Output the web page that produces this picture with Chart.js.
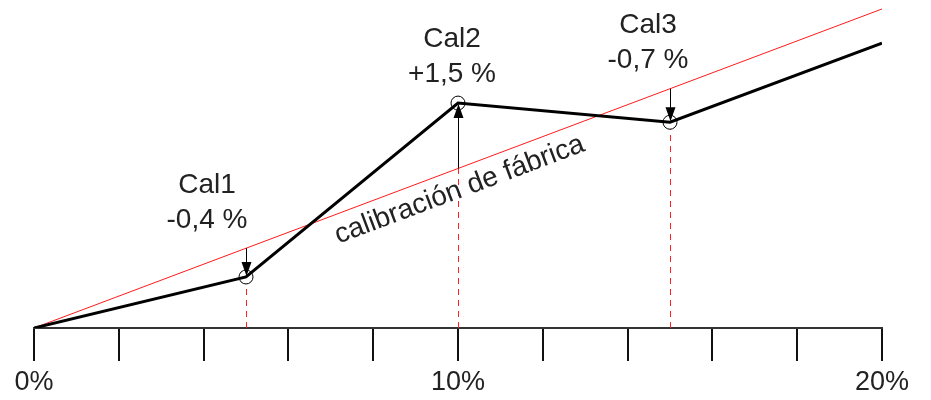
<!DOCTYPE html>
<html><head><meta charset="utf-8">
<script src="https://cdn.jsdelivr.net/npm/chart.js@4/dist/chart.umd.min.js"></script>
<style>html,body{margin:0;padding:0;background:#fff}#wrap{width:931px;height:400px;position:relative}</style>
</head><body><div id="wrap"><canvas id="c"></canvas></div>
<script>
// ---- data ----
const tickLabels = { 0: '0%', 10: '10%', 20: '20%' };
const factoryX = [0, 20];
const factoryY = [0, 20];
const measuredX = [0, 5, 10, 15, 20];
const measuredY = [0, 3.2, 14.1, 12.9, 17.85];
const calNames = ['Cal1', 'Cal2', 'Cal3'];
const calDeviation = ['-0,4 %', '+1,5 %', '-0,7 %'];
const calIndex = [1, 2, 3];
const factoryLabel = 'calibración de fábrica';

const FONT = "'Liberation Sans', Arial, sans-serif";
const TXT = '#222';

const annot = {
  id: 'annot',
  beforeDatasetsDraw(chart) {
    const { ctx, scales: { x, y } } = chart;
    ctx.save();
    ctx.strokeStyle = '#ff2020';
    ctx.lineWidth = 1;
    ctx.setLineDash([6, 5]);
    calIndex.forEach(i => {
      const px = Math.round(x.getPixelForValue(measuredX[i])) + 0.5;
      const top = Math.min(measuredY[i], measuredX[i]);
      ctx.beginPath();
      ctx.moveTo(px, y.getPixelForValue(0));
      ctx.lineTo(px, y.getPixelForValue(top) + (measuredY[i] < measuredX[i] ? 7 : 0));
      ctx.stroke();
    });
    ctx.restore();
  },
  afterDatasetsDraw(chart) {
    const { ctx, scales: { x, y } } = chart;
    ctx.save();
    // arrows
    ctx.strokeStyle = '#000';
    ctx.fillStyle = '#000';
    ctx.lineWidth = 1;
    calIndex.forEach(i => {
      const px = Math.round(x.getPixelForValue(measuredX[i])) + 0.5;
      const y0 = y.getPixelForValue(measuredX[i]);
      const y1 = y.getPixelForValue(measuredY[i]);
      const dir = y1 > y0 ? 1 : -1;
      const tip = y1 - dir * 1;
      ctx.beginPath();
      ctx.moveTo(px, y0);
      ctx.lineTo(px, tip - dir * 10);
      ctx.stroke();
      ctx.beginPath();
      ctx.moveTo(px, tip);
      ctx.lineTo(px - 5, tip - dir * 14);
      ctx.lineTo(px + 5, tip - dir * 14);
      ctx.closePath();
      ctx.fill();
    });
    // labels
    ctx.fillStyle = TXT;
    ctx.font = '28px ' + FONT;
    ctx.textAlign = 'center';
    ctx.textBaseline = 'alphabetic';
    const offs = [[-39, -84], [-6, -56], [-22, -89]];
    calIndex.forEach((i, k) => {
      const px = x.getPixelForValue(measuredX[i]) + offs[k][0];
      const py = y.getPixelForValue(measuredY[i]) + offs[k][1];
      ctx.fillText(calNames[k], px, py);
      ctx.fillText(calDeviation[k], px, py + 35);
    });
    // rotated factory label
    const ang = Math.atan2(y.getPixelForValue(factoryY[1]) - y.getPixelForValue(factoryY[0]),
                           x.getPixelForValue(factoryX[1]) - x.getPixelForValue(factoryX[0]));
    ctx.translate(x.getPixelForValue(10.1), y.getPixelForValue(8.2));
    ctx.rotate(ang);
    ctx.fillText(factoryLabel, 0, 0);
    ctx.restore();
  }
};

new Chart(document.getElementById('c'), {
  type: 'line',
  data: {
    datasets: [
      {
        label: 'fábrica',
        data: factoryX.map((v, i) => ({ x: v, y: factoryY[i] })),
        borderColor: '#ff1a1a',
        borderWidth: 1,
        pointRadius: 0,
        order: 2
      },
      {
        label: 'medido',
        data: measuredX.map((v, i) => ({ x: v, y: measuredY[i] })),
        borderColor: '#000',
        borderWidth: 3,
        pointRadius: measuredX.map((v, i) => calIndex.includes(i) ? 7 : 0),
        pointBorderColor: '#000',
        pointBorderWidth: 1,
        pointBackgroundColor: 'rgba(0,0,0,0)',
        order: 1
      }
    ]
  },
  options: {
    responsive: true,
    maintainAspectRatio: false,
    animation: false,
    events: [],
    layout: { padding: { left: 34, right: 49, top: 1, bottom: -4 } },
    plugins: { legend: { display: false }, tooltip: { enabled: false } },
    scales: {
      x: {
        type: 'linear', min: 0, max: 20,
        grid: { display: true, drawOnChartArea: false, drawTicks: true, tickLength: 33, color: '#111', lineWidth: 2 },
        border: { display: true, color: '#333', width: 2 },
        ticks: {
          stepSize: 2, autoSkip: false, maxRotation: 0, padding: 8, color: TXT,
          font: { family: FONT, size: 27, lineHeight: 1.0 },
          callback: v => tickLabels[v] !== undefined ? tickLabels[v] : ''
        }
      },
      y: { display: false, min: 0, max: 20.5 }
    }
  },
  plugins: [annot]
});
</script>
</body></html>
